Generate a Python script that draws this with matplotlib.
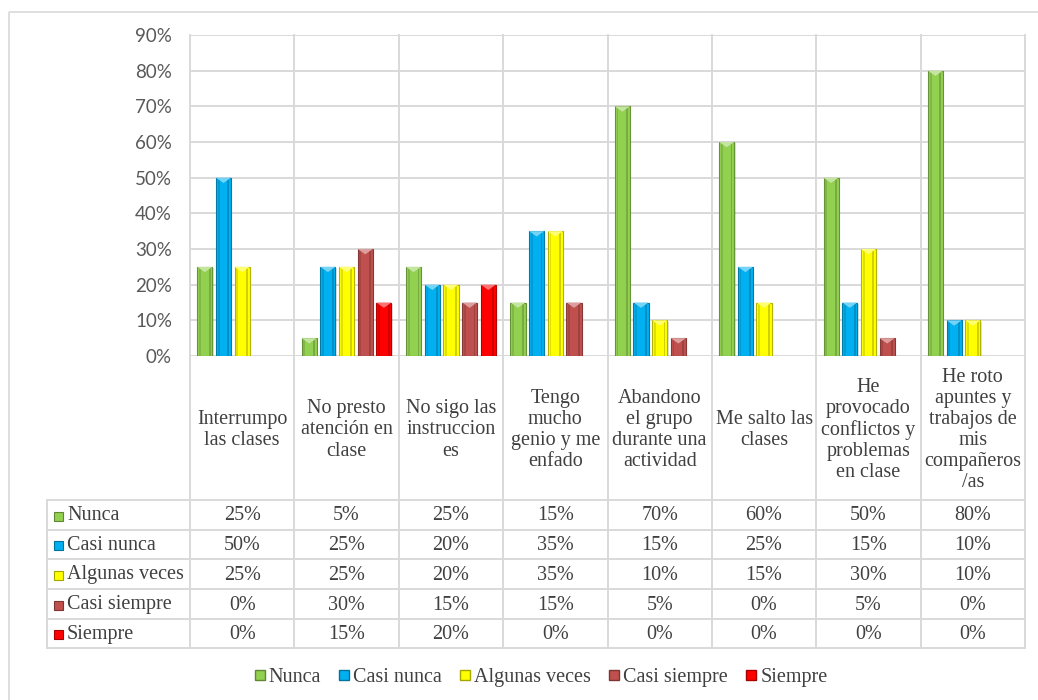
import numpy as np
import matplotlib.pyplot as plt
from matplotlib.transforms import blended_transform_factory
from matplotlib.patches import Polygon, Rectangle
from matplotlib.lines import Line2D
from matplotlib.colors import to_rgb

# data
categories = ['Interrumpo\nlas clases', 'No presto\natención en\nclase',
              'No sigo las\ninstruccion\nes', 'Tengo\nmucho\ngenio y me\nenfado',
              'Abandono\nel grupo\ndurante una\nactividad', 'Me salto las\nclases',
              'He\nprovocado\nconflictos y\nproblemas\nen clase',
              'He roto\napuntes y\ntrabajos de\nmis\ncompañeros\n/as']
series = ['Nunca', 'Casi nunca', 'Algunas veces', 'Casi siempre', 'Siempre']
nunca = [25, 5, 25, 15, 70, 60, 50, 80]
casi_nunca = [50, 25, 20, 35, 15, 25, 15, 10]
algunas_veces = [25, 25, 20, 35, 10, 15, 30, 10]
casi_siempre = [0, 30, 15, 15, 5, 0, 5, 0]
siempre = [0, 15, 20, 0, 0, 0, 0, 0]
values = [nunca, casi_nunca, algunas_veces, casi_siempre, siempre]
colors = ['#92D050', '#00B0F0', '#FFFF00', '#C0504D', '#FF0000']
yticks = list(range(0, 91, 10))

serif = 'Liberation Serif'
fs = 14.5
txt_col = '#404040'
grid_col = '#D9D9D9'


def mix(c, other, t):
    c = np.array(to_rgb(c))
    return tuple(c * (1 - t) + np.array(other) * t)


W, H = 1038, 700
fig = plt.figure(figsize=(W / 100, H / 100), dpi=100)

# full figure overlay in pixel units for the frame / table
bg = fig.add_axes([0, 0, 1, 1], zorder=0)
bg.set_xlim(0, W)
bg.set_ylim(H, 0)
bg.axis('off')
bg.add_patch(Rectangle((9, 12), W, H, fill=False, edgecolor='#D9D9D9', lw=1.2))

# plot area
x0, x1, ytop, ybot = 190, 1025, 35, 356
ax = fig.add_axes([x0 / W, 1 - ybot / H, (x1 - x0) / W, (ybot - ytop) / H], zorder=1)
ax.patch.set_alpha(0)
n = len(categories)
ax.set_xlim(-0.5, n - 0.5)
ax.set_ylim(0, 90)
ax.set_yticks(yticks)
ax.set_yticklabels([f'{v}%' for v in yticks], fontsize=13.5, color='#595959', family='Lato')
ax.set_xticks([])
ax.tick_params(axis='y', length=0, pad=13)
for s in ax.spines.values():
    s.set_visible(False)
ax.yaxis.grid(True, color=grid_col, lw=1.4)
ax.set_axisbelow(True)

x = np.arange(n)
step = 0.179
bw = 0.145
for i, (vals, c) in enumerate(zip(values, colors)):
    off = (i - 2) * step
    for xi, v in zip(x, vals):
        if v <= 0:
            continue
        cx = xi + off
        # soft shadow
        ax.bar(cx + 0.012, v, bw, bottom=-0.4, color='#000000', alpha=0.12, lw=0, zorder=2)
        ax.bar(cx, v, bw, color=c, edgecolor=mix(c, (0, 0, 0), 0.3), lw=0.8, zorder=3)
        ax.bar(cx - bw * 0.32, v, bw * 0.12, color=mix(c, (0, 0, 0), 0.12), lw=0, zorder=3)
        ax.bar(cx + bw * 0.32, v, bw * 0.12, color=mix(c, (0, 0, 0), 0.18), lw=0, zorder=3)
        d = min(1.5, v * 0.5)
        ax.add_patch(Polygon([(cx - bw / 2, v), (cx + bw / 2, v), (cx, v - d)],
                             closed=True, color=mix(c, (1, 1, 1), 0.45), lw=0, zorder=4))

# table lines and texts (x in category units, y in pixels)
tr = blended_transform_factory(ax.transData, bg.transData)
row_y = [500, 530, 559, 589, 619, 648]
label_left = 47

for b in np.arange(-0.5, n, 1.0):
    bg.add_line(Line2D([b, b], [ytop, row_y[-1]], transform=tr, color=grid_col, lw=1.4, zorder=1))
bg.plot([label_left, label_left], [row_y[0], row_y[-1]], color=grid_col, lw=1.4)
for ry in row_y:
    bg.plot([label_left, x1], [ry, ry], color=grid_col, lw=1.4)

# category labels
for xi, cat in zip(x, categories):
    bg.text(xi, (ybot + row_y[0]) / 2 + 2, cat, transform=tr, ha='center', va='center',
            fontsize=fs, family=serif, color=txt_col, linespacing=1.15)

# rows
for r, (name, vals, c) in enumerate(zip(series, values, colors)):
    cy = (row_y[r] + row_y[r + 1]) / 2 + 1
    bg.add_patch(Rectangle((54, cy - 4.5), 9, 9, facecolor=c,
                           edgecolor=mix(c, (0, 0, 0), 0.35), lw=0.8))
    bg.text(67, cy, name, ha='left', va='center', fontsize=fs, family=serif, color=txt_col)
    for xi, v in zip(x, vals):
        bg.text(xi, cy, f'{v}%', transform=tr, ha='center', va='center',
                fontsize=fs, family=serif, color=txt_col)

# legend
handles = [Line2D([], [], ls='none', marker='s', markersize=7, markerfacecolor=c,
                  markeredgecolor=mix(c, (0, 0, 0), 0.35)) for c in colors]
leg = fig.legend(handles, series, loc='center', bbox_to_anchor=(540 / W, 1 - 677 / H),
                 ncol=5, frameon=False, handlelength=0.7, handletextpad=0.1,
                 columnspacing=0.8, prop={'family': serif, 'size': fs})
for t in leg.get_texts():
    t.set_color(txt_col)

fig.savefig('out.png', dpi=100)
